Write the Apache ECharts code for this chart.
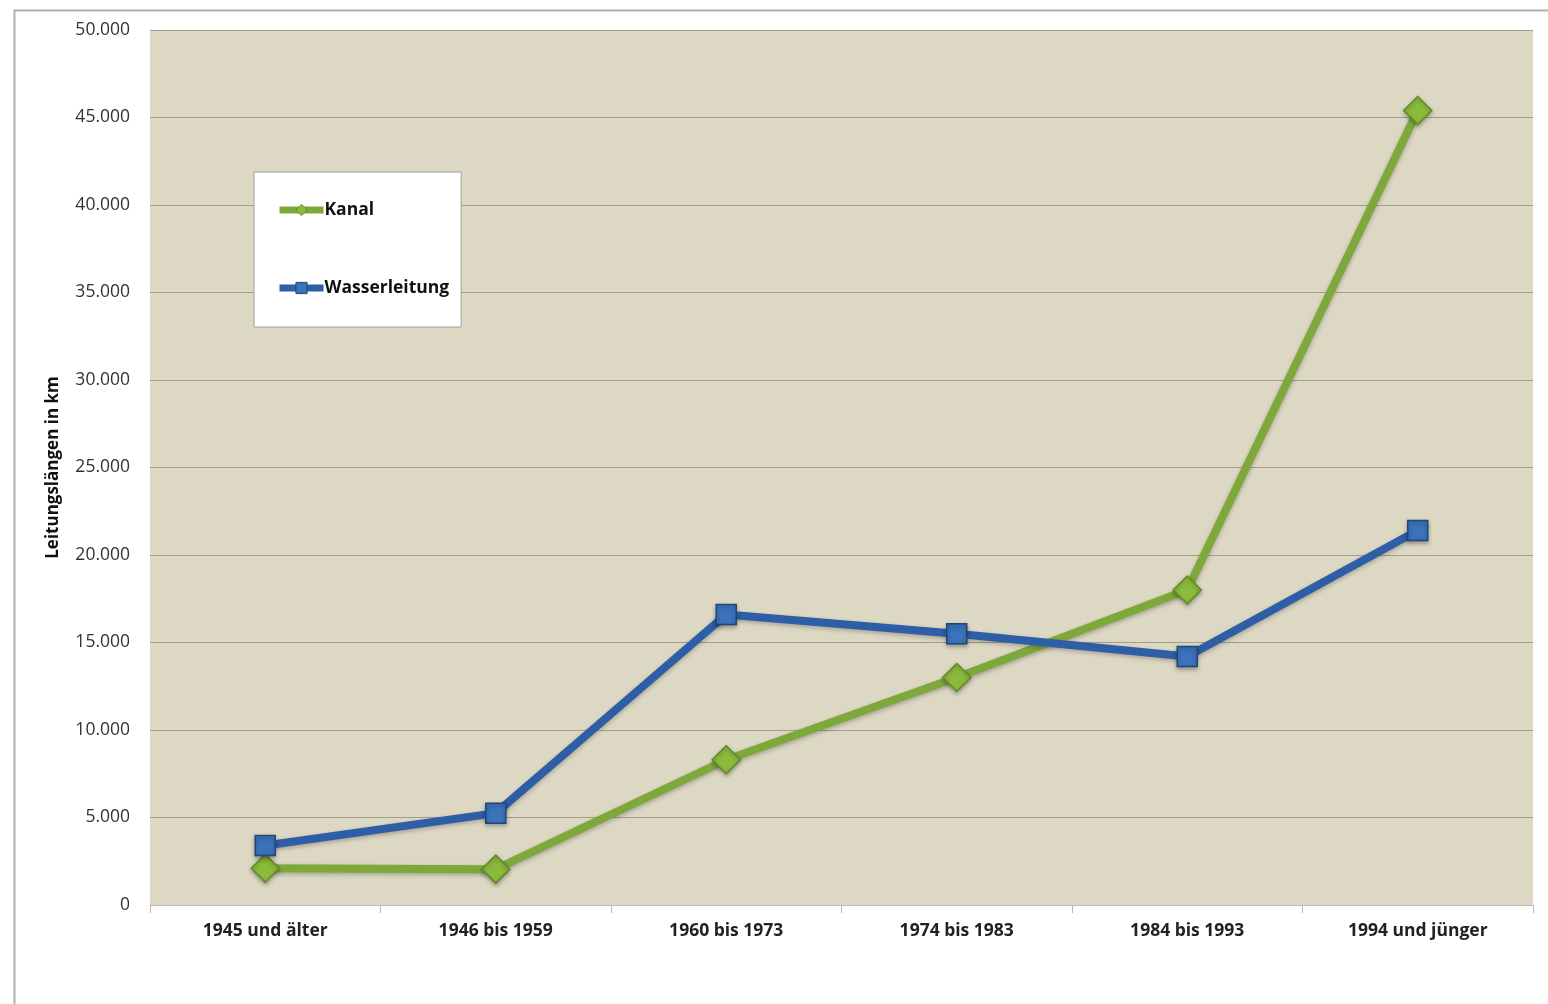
<!DOCTYPE html>
<html>
<head>
<meta charset="utf-8">
<script src="https://cdn.jsdelivr.net/npm/echarts@6/dist/echarts.min.js"></script>
<style>html,body{margin:0;padding:0;background:#fff;}#c{width:1548px;height:1004px;}</style>
</head>
<body>
<div id="c"></div>
<script>
const categories = ['1945 und älter', '1946 bis 1959', '1960 bis 1973', '1974 bis 1983', '1984 bis 1993', '1994 und jünger'];
const kanal = [2100, 2050, 8300, 13000, 18000, 45400];
const wasserleitung = [3400, 5250, 16600, 15500, 14200, 21400];
const yTicks = { min: 0, max: 50000, interval: 5000 };

const fmt = v => v === 0 ? '0' : String(v).replace(/\B(?=(\d{3})+(?!\d))/g, '.');
const font = 'Open Sans';

const chart = echarts.init(document.getElementById('c'));
chart.setOption({
  animation: false,
  backgroundColor: '#fff',
  textStyle: { fontFamily: font },
  graphic: [{
    type: 'rect', left: 12, top: 8, z: -1,
    shape: { width: 1600, height: 1100 },
    style: { fill: 'none', stroke: '#b0b0b0', lineWidth: 2 }
  }],
  grid: { left: 150, top: 30, width: 1383, height: 875, backgroundColor: '#ddd8c4', show: true, borderWidth: 0 },
  legend: {
    left: 254, top: 172, orient: 'vertical',
    backgroundColor: '#fff', borderColor: '#a0a0a0', borderWidth: 1,
    padding: [29, 12, 30, 22], itemGap: 60,
    itemWidth: 44, itemHeight: 14,
    textStyle: { fontFamily: font, fontWeight: 'bold', fontSize: 17.5, color: '#111', padding: [0,0,0,-4] },
    data: [
      { name: 'Kanal', itemStyle: { borderWidth: 1 }, lineStyle: { width: 7 } },
      { name: 'Wasserleitung', itemStyle: { borderWidth: 1 }, lineStyle: { width: 7 } }
    ]
  },
  xAxis: {
    type: 'category', data: categories, boundaryGap: true,
    axisLine: { lineStyle: { color: '#b8b8b8', width: 1 } },
    axisTick: { show: true, length: 8, lineStyle: { color: '#b8b8b8' } },
    axisLabel: { fontFamily: font, fontWeight: 'bold', fontSize: 17.5, color: '#222', margin: 17 }
  },
  yAxis: {
    type: 'value', min: yTicks.min, max: yTicks.max, interval: yTicks.interval,
    name: 'Leitungslängen in km', nameLocation: 'middle', nameGap: 88, nameRotate: 90,
    nameTextStyle: { fontFamily: font, fontWeight: 'bold', fontSize: 17, color: '#111' },
    axisLine: { show: false }, axisTick: { show: false },
    axisLabel: { formatter: fmt, fontFamily: font, fontSize: 17.5, color: '#333', margin: 20 },
    splitLine: { lineStyle: { color: '#a39d8a', width: 1 } }
  },
  series: [{
    name: 'Kanal', type: 'line', data: kanal,
    symbol: 'diamond', symbolSize: 28,
    lineStyle: { color: '#7fa83a', width: 8, shadowColor: 'rgba(0,0,0,0.25)', shadowBlur: 4, shadowOffsetY: 2 },
    itemStyle: { color: '#8cbb3c', borderColor: '#5f8a25', borderWidth: 1.5, shadowColor: 'rgba(0,0,0,0.3)', shadowBlur: 4, shadowOffsetY: 2 },
    z: 2
  }, {
    name: 'Wasserleitung', type: 'line', data: wasserleitung,
    symbol: 'rect', symbolSize: 20,
    lineStyle: { color: '#2d5ea6', width: 8, shadowColor: 'rgba(0,0,0,0.25)', shadowBlur: 4, shadowOffsetY: 2 },
    itemStyle: { color: '#3a72bb', borderColor: '#1f4779', borderWidth: 1.5, shadowColor: 'rgba(0,0,0,0.3)', shadowBlur: 4, shadowOffsetY: 2 },
    z: 3
  }]
});
</script>
</body>
</html>
